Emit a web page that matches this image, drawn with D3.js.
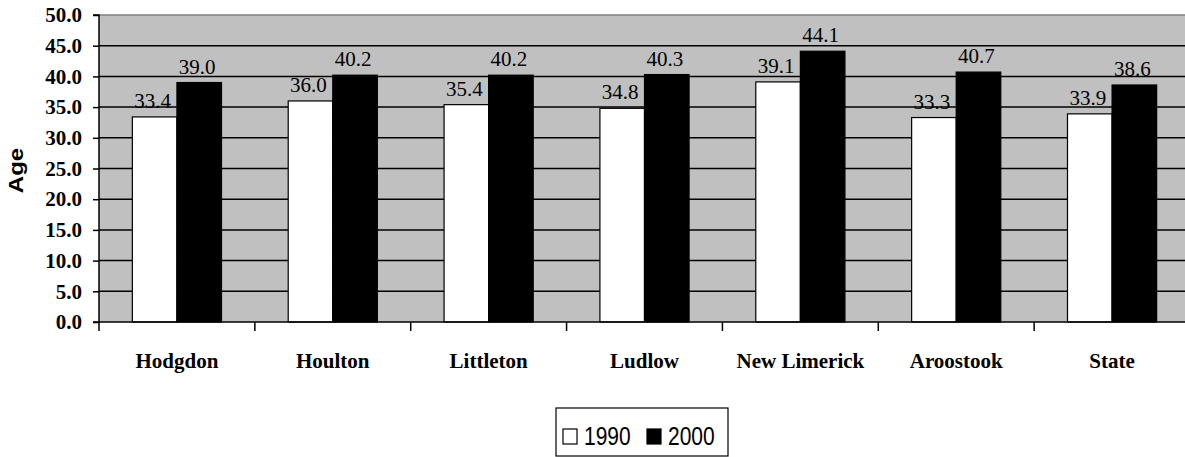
<!DOCTYPE html>
<html>
<head>
<meta charset="utf-8">
<script src="https://cdn.jsdelivr.net/npm/d3@7"></script>
<style>
  html, body { margin: 0; padding: 0; background: #fff; }
  svg { display: block; }
</style>
</head>
<body>
<svg id="chart" width="1185" height="457"></svg>
<script>
const categories = ["Hodgdon", "Houlton", "Littleton", "Ludlow", "New Limerick", "Aroostook", "State"];
const seriesNames = ["1990", "2000"];
const values1990 = [33.4, 36.0, 35.4, 34.8, 39.1, 33.3, 33.9];
const values2000 = [39.0, 40.2, 40.2, 40.3, 44.1, 40.7, 38.6];
const yTicks = [0, 5, 10, 15, 20, 25, 30, 35, 40, 45, 50];

const seriesValues = [values1990, values2000];
const fills = ["#ffffff", "#000000"];

const svg = d3.select("#chart");
const pLeft = 99, pRight = 1190, pTop = 15, pBottom = 322;

const x0 = d3.scaleBand().domain(categories).range([pLeft, pRight]).padding(0);
const bw = x0.bandwidth();
const x1 = d3.scaleBand().domain(seriesNames).range([bw * 0.214, bw * 0.786]).padding(0);
const y = d3.scaleLinear().domain([0, 50]).range([pBottom, pTop]);

// plot background
svg.append("rect")
  .attr("x", pLeft).attr("y", pTop)
  .attr("width", pRight - pLeft).attr("height", pBottom - pTop)
  .attr("fill", "#c0c0c0");

// top border
svg.append("line")
  .attr("x1", pLeft).attr("x2", pRight)
  .attr("y1", pTop).attr("y2", pTop)
  .attr("stroke", "#808080").attr("stroke-width", 1.5);

// gridlines
svg.append("g").selectAll("line")
  .data(yTicks.filter(t => t > 0 && t < 50))
  .join("line")
  .attr("x1", pLeft).attr("x2", pRight)
  .attr("y1", d => y(d)).attr("y2", d => y(d))
  .attr("stroke", "#000").attr("stroke-width", 1.5);

// bars
const rows = categories.map((c, i) => ({ c, vals: seriesNames.map((s, j) => ({ s, j, v: seriesValues[j][i] })) }));
const groups = svg.append("g").selectAll("g")
  .data(rows).join("g")
  .attr("transform", d => `translate(${x0(d.c)},0)`);

groups.selectAll("rect")
  .data(d => d.vals).join("rect")
  .attr("x", d => x1(d.s))
  .attr("y", d => y(d.v))
  .attr("width", x1.bandwidth())
  .attr("height", d => y(0) - y(d.v))
  .attr("fill", d => fills[d.j])
  .attr("stroke", "#000").attr("stroke-width", 1.2);

groups.selectAll("text")
  .data(d => d.vals).join("text")
  .attr("x", d => x1(d.s) + x1.bandwidth() / 2 - 2)
  .attr("y", d => y(d.v) - 9)
  .attr("text-anchor", "middle")
  .attr("font-family", "'Liberation Serif', 'Times New Roman', serif")
  .attr("font-size", 21)
  .attr("fill", "#000")
  .text(d => d.v.toFixed(1));

// y axis
const yAxis = d3.axisLeft(y).tickValues(yTicks).tickFormat(d => d.toFixed(1)).tickSize(6).tickPadding(11);
const gy = svg.append("g").attr("transform", `translate(${pLeft},0)`).call(yAxis);
gy.select(".domain").attr("stroke", "#000").attr("stroke-width", 1.5).attr("d", `M-6,${pTop}H0V${pBottom}H-6`);
gy.selectAll(".tick line").attr("stroke", "#000").attr("stroke-width", 1.5);
gy.selectAll(".tick text")
  .attr("font-family", "'Liberation Serif', 'Times New Roman', serif")
  .attr("font-weight", "bold")
  .attr("font-size", 21)
  .attr("fill", "#000");

// x axis
const xAxis = d3.axisBottom(x0).tickSize(0).tickPadding(0);
const gx = svg.append("g").attr("transform", `translate(0,${pBottom})`).call(xAxis);
gx.select(".domain").attr("stroke", "#000").attr("stroke-width", 1.5).attr("d", `M${pLeft},0H${pRight}`);
gx.selectAll(".tick text")
  .attr("y", 46)
  .attr("dy", 0)
  .attr("font-family", "'Liberation Serif', 'Times New Roman', serif")
  .attr("font-weight", "bold")
  .attr("font-size", 21)
  .attr("fill", "#000");
// boundary ticks
gx.append("g").selectAll("line")
  .data(categories.map(c => x0(c)))
  .join("line")
  .attr("x1", d => d).attr("x2", d => d)
  .attr("y1", 0).attr("y2", 9)
  .attr("stroke", "#000").attr("stroke-width", 1.5);

// y axis title
svg.append("text")
  .attr("transform", `translate(23,${(pTop + pBottom) / 2 + 2}) rotate(-90) scale(1,0.85)`)
  .attr("text-anchor", "middle")
  .attr("font-family", "'Liberation Sans', Arial, sans-serif")
  .attr("font-weight", "bold")
  .attr("font-size", 24)
  .attr("fill", "#000")
  .text("Age");

// legend
const legend = svg.append("g");
legend.append("rect")
  .attr("x", 556).attr("y", 408).attr("width", 172).attr("height", 48)
  .attr("fill", "#fff").attr("stroke", "#000").attr("stroke-width", 1.2);
const legX = [563, 647];
seriesNames.forEach((s, j) => {
  legend.append("rect")
    .attr("x", legX[j]).attr("y", 429).attr("width", 14).attr("height", 15)
    .attr("fill", fills[j]).attr("stroke", "#000").attr("stroke-width", 1.2);
  legend.append("text")
    .attr("transform", `translate(${legX[j] + 21},445) scale(1,1.22)`)
    .attr("font-family", "'Liberation Sans', Arial, sans-serif")
    .attr("font-size", 21)
    .attr("fill", "#000")
    .text(s);
});
</script>
</body>
</html>
